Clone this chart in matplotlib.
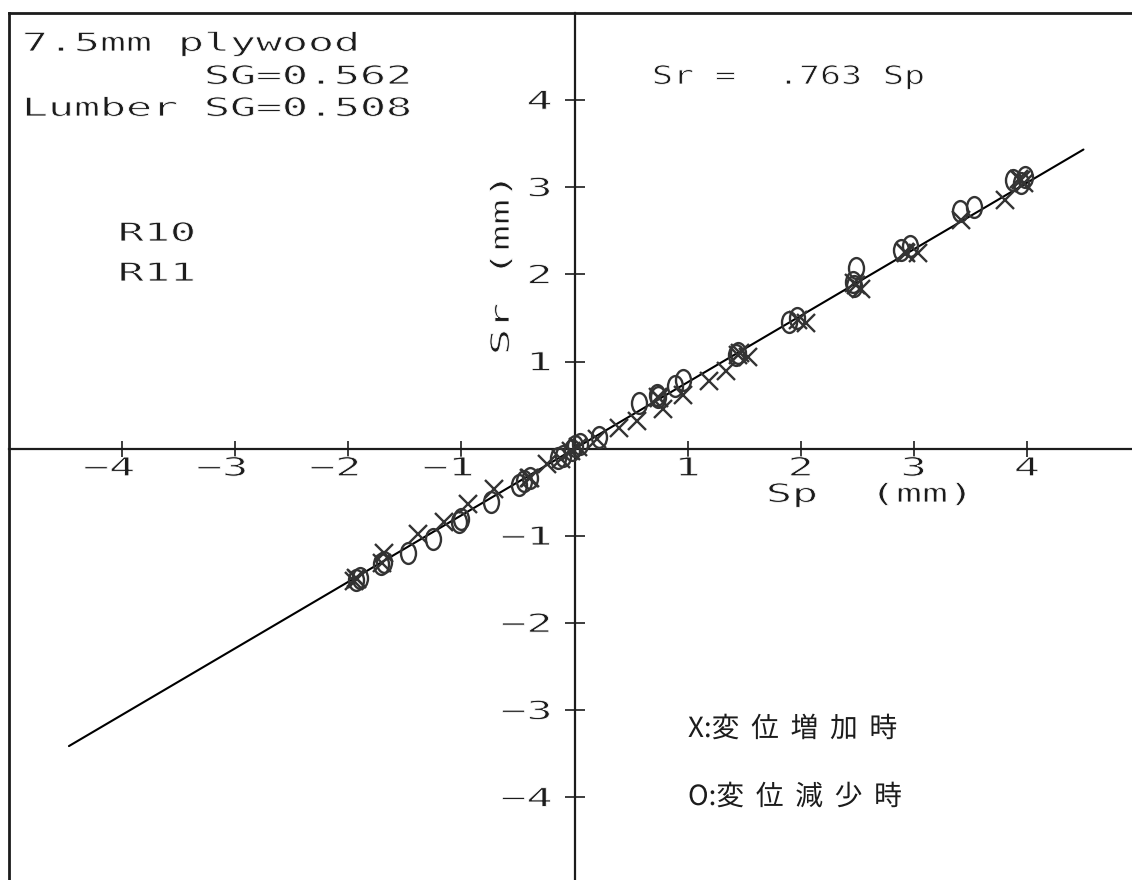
import numpy as np
import matplotlib
matplotlib.use("Agg")
import matplotlib.pyplot as plt
import matplotlib.patheffects as pe
from matplotlib import _text_helpers
from matplotlib.font_manager import FontProperties
from matplotlib.path import Path
from matplotlib.textpath import text_to_path
from matplotlib.transforms import Affine2D, ScaledTranslation

# ---- measured slip data (mm) -------------------------------------------
# displacement increasing (X)
sp_inc = [0.03, 0.20, 0.39, 0.55, 0.74, 0.75, 0.78, 0.96, 1.19, 1.34, 1.45,
          1.46, 1.53, 1.98, 2.05, 2.47, 2.49, 2.53, 2.92, 2.93, 3.04, 3.42,
          3.81, 3.93, 3.95, 3.97,
          -0.03, -0.12, -0.24, -0.39, -0.40, -0.71, -0.94, -1.15, -1.38,
          -1.68, -1.70, -1.92, -1.93, -1.95]
sr_inc = [0.02, 0.11, 0.24, 0.32, 0.60, 0.58, 0.46, 0.62, 0.78, 0.89, 1.08,
          1.10, 1.05, 1.48, 1.44, 1.90, 1.88, 1.83, 2.26, 2.25, 2.25, 2.62,
          2.85, 3.10, 3.08, 3.05,
          -0.03, -0.12, -0.18, -0.33, -0.34, -0.46, -0.63, -0.84, -0.98,
          -1.19, -1.31, -1.49, -1.48, -1.52]
# displacement decreasing (O)
sp_dec = [0.00, 0.05, 0.22, 0.57, 0.73, 0.74, 0.89, 0.96, 1.43, 1.45, 1.90,
          1.97, 2.46, 2.47, 2.49, 2.89, 2.97, 3.41, 3.53, 3.88, 3.95, 3.98,
          -0.02, -0.10, -0.15, -0.39, -0.45, -0.49, -0.74, -1.00, -1.02,
          -1.25, -1.47, -1.68, -1.71, -1.90, -1.93]
sr_dec = [0.03, 0.05, 0.14, 0.52, 0.62, 0.60, 0.72, 0.79, 1.08, 1.10, 1.45,
          1.50, 1.91, 1.87, 2.07, 2.28, 2.33, 2.73, 2.77, 3.08, 3.05, 3.12,
          -0.01, -0.08, -0.11, -0.33, -0.37, -0.41, -0.61, -0.80, -0.84,
          -1.04, -1.19, -1.30, -1.32, -1.48, -1.50]

slope = 0.763
fit_sp = [-4.47, 4.50]
x_ticks = [-4, -3, -2, -1, 1, 2, 3, 4]
y_ticks = [-4, -3, -2, -1, 1, 2, 3, 4]

# ---- figure geometry ----------------------------------------------------
W, H = 1132, 880
INK = "#1c1c1c"
MARK = "#333333"
PITCH = 26          # plotter character cell width (px)
MONO = "DejaVu Sans Mono"
TXT_PT = 18.5


class PlotterFont(pe.AbstractPathEffect):
    """Widen glyph runs horizontally and thin the strokes a little."""

    def __init__(self, sx, thin=0.6):
        super().__init__()
        self.sx = sx
        self.thin = thin

    def draw_path(self, renderer, gc, tpath, affine, rgbFace=None):
        tr = Affine2D().scale(self.sx, 1.0) + affine
        renderer.draw_path(gc, tpath, tr, rgbFace)
        if self.thin:
            gc0 = renderer.new_gc()
            gc0.copy_properties(gc)
            gc0.set_foreground("white")
            gc0.set_linewidth(self.thin)
            renderer.draw_path(gc0, tpath, tr, None)
            gc0.restore()


class Tracking(pe.AbstractPathEffect):
    """Add extra space between glyphs, starting after the first `skip`."""

    def __init__(self, text, prop, extra_em, skip=1):
        super().__init__()
        font = text_to_path._get_font(prop)
        font.set_size(text_to_path.FONT_SCALE, text_to_path.DPI)
        xs = [item.x for item in _text_helpers.layout(text, font)]
        self.bounds = np.array(xs[1:])
        self.extra = extra_em * text_to_path.FONT_SCALE
        self.skip = skip

    def draw_path(self, renderer, gc, tpath, affine, rgbFace=None):
        verts = np.array(tpath.vertices, dtype=float)
        codes = tpath.codes
        starts = list(np.nonzero(codes == Path.MOVETO)[0]) + [len(codes)]
        for a, b in zip(starts[:-1], starts[1:]):
            cx = 0.5 * (verts[a:b, 0].min() + verts[a:b, 0].max())
            k = int(np.searchsorted(self.bounds, cx))
            verts[a:b, 0] += max(0, k - self.skip) * self.extra
        renderer.draw_path(gc, Path(verts, codes), affine, rgbFace)


def plotter_effect(pitch):
    adv_px = 0.602 * TXT_PT * 100 / 72
    return [PlotterFont(pitch / adv_px)]


STRETCH = plotter_effect(PITCH)

fig = plt.figure(figsize=(W / 100, H / 100), dpi=100)
fig.patch.set_facecolor("white")

L, R, T, B = 9, 1140, 13, 884.6
ax = fig.add_axes([L / W, 1 - B / H, (R - L) / W, (B - T) / H])
ax.set_xlim(-5, 5)
ax.set_ylim(-5, 5)
ax.set_facecolor("white")

for side in ("left", "bottom"):
    ax.spines[side].set_position(("data", 0))
    ax.spines[side].set_linewidth(1.6)
    ax.spines[side].set_color(INK)
ax.spines["right"].set_visible(False)
ax.spines["top"].set_linewidth(2.0)
ax.spines["top"].set_color(INK)
ax.plot([-5, -5], [-5, 5], color=INK, lw=2.0, clip_on=False, zorder=3)

ax.set_xticks(x_ticks)
ax.set_yticks(y_ticks)
ax.tick_params(axis="x", direction="inout", length=11, width=1.2,
               color=INK, labelbottom=False)
ax.tick_params(axis="y", direction="inout", length=15, width=1.2,
               color=INK, labelleft=False)


def px_offset(dx, dy):
    return ax.transData + ScaledTranslation(dx / 100, -dy / 100,
                                            fig.dpi_scale_trans)


def mono(x, y, s, transform, effect=STRETCH, **kw):
    return ax.text(x, y, s, transform=transform, fontsize=TXT_PT,
                   family=MONO, color=INK, ha="left", va="baseline",
                   path_effects=effect, clip_on=False, **kw)


# tick labels: the digit cell sits centred on the tick
for t in x_ticks:
    s = str(t).replace("-", "\u2212")
    mono(t, 0, s, px_offset(-(len(s) - 0.5) * PITCH, 27))
for t in y_ticks:
    s = str(t).replace("-", "\u2212")
    mono(0, t, s, px_offset(-22 - len(s) * PITCH, 9))

# regression line and data
ax.plot(fit_sp, [slope * v for v in fit_sp], color="black", lw=1.5,
        solid_capstyle="round", zorder=4)
oval = Path.unit_circle().transformed(Affine2D().scale(0.72, 1.0))
ax.plot(sp_inc, sr_inc, ls="none", marker="x", ms=12.5, mew=1.7, color=MARK,
        zorder=5)
ax.plot(sp_dec, sr_dec, ls="none", marker=oval, ms=15, mew=1.7, mfc="none",
        mec=MARK, zorder=5)


def fig_text(px, py, s, effect=STRETCH, **kw):
    return fig.text(px / W, 1 - py / H, s, color=INK, ha="left",
                    va="baseline", fontsize=TXT_PT, family=MONO,
                    path_effects=effect, **kw)


fig_text(22, 51, "7.5mm plywood")
fig_text(22 + 7 * PITCH, 84, "SG=0.562")
fig_text(22, 116, "Lumber SG=0.508")
fig_text(118, 241, "R10")
fig_text(118, 281, "R11")
fig_text(652, 84, "Sr =  .763 Sp", effect=plotter_effect(21))
fig_text(766, 502, "Sp  (mm)")
fig.text(509 / W, 1 - 355 / H, "Sr (mm)", rotation=90, rotation_mode="anchor",
         ha="left", va="baseline", fontsize=TXT_PT, family=MONO, color=INK,
         path_effects=STRETCH)

cjk = ["Noto Sans CJK JP", "DejaVu Sans"]
for py, s in ((737, "X:変位増加時"), (805, "O:変位減少時")):
    prop = FontProperties(family=cjk, size=20)
    fig.text(688 / W, 1 - py / H, s, fontproperties=prop, color=INK,
             ha="left", va="baseline",
             path_effects=[Tracking(s, prop, 0.42, skip=2)])

fig.savefig("out.png", dpi=100, facecolor="white")
